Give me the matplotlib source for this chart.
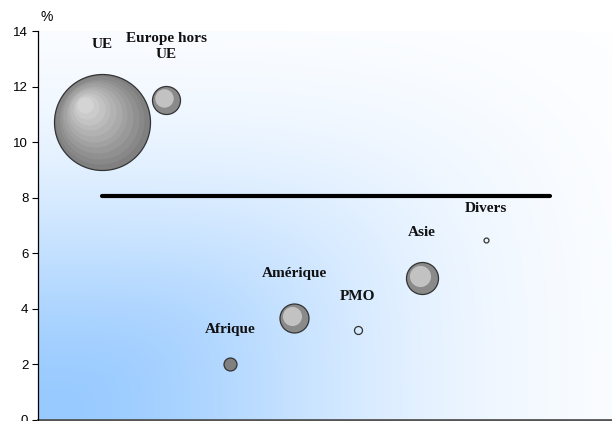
import numpy as np
import matplotlib
matplotlib.use("Agg")
from matplotlib import pyplot as plt
import matplotlib.transforms as mtransforms

# --- data ---
zones = ["UE", "Europe hors\nUE", "Afrique", "Amérique", "PMO", "Asie", "Divers"]
croissance = [10.72, 11.5, 2.0, 3.67, 3.24, 5.11, 6.47]      # % (y)
poids = [2304, 196, 42, 210, 16, 256, 6]                      # bubble area (weight)
label_y = [13.5, 13.45, 3.27, 5.27, 4.46, 6.76, 7.61]         # label positions
moyenne = 8.05
ticks_y = [0, 2, 4, 6, 8, 10, 12, 14]

fig = plt.figure(figsize=(6.12, 4.21), dpi=100)
ax = fig.add_axes([38 / 612, 1 / 421, 574 / 612, 389 / 421])
ax.set_xlim(0, 574 / 64)
ax.set_ylim(0, 14)

# background: corner gradient, light blue bottom-left fading to white
xn = np.linspace(0, 1, 400)
yn = np.linspace(0, 1, 300)
X, Y = np.meshgrid(xn, yn)
u = (X ** 4 + Y ** 4) ** 0.25
f = np.exp(-(u / 0.58) ** 2)
rgb = np.ones((300, 400, 3))
blue = np.array([152, 202, 255]) / 255
for c in range(3):
    rgb[..., c] = 1 - f * (1 - blue[c])
ax.imshow(rgb, extent=[0, 574 / 64, 0, 14], origin="lower", aspect="auto", zorder=0)

# mean line
ax.plot([1, 8], [moyenne, moyenne], color="black", lw=3, solid_capstyle="round", zorder=2)

xs = np.arange(1, len(zones) + 1)


def shifted(dx_pt, dy_pt):
    return ax.transData + mtransforms.ScaledTranslation(dx_pt / 72, dy_pt / 72, fig.dpi_scale_trans)


for i, (x, y, w) in enumerate(zip(xs, croissance, poids)):
    d = 2 * np.sqrt(w) * 0.72  # diameter in points
    if w < 30:
        ax.plot(x, y, "o", ms=d, mfc="none", mec="#333333", mew=0.9, zorder=3)
        continue
    if w < 100:
        ax.plot(x, y, "o", ms=d, mfc="#808080", mec="#333333", mew=0.9, zorder=3)
        continue
    if w > 1000:
        n, fmin, g0, g1 = 11, 0.17, 0.50, 0.83
    else:
        n, fmin, g0, g1 = 2, 0.66, 0.54, 0.76
    ax.plot(x, y, "o", ms=d, mfc=str(g0), mec="#333333", mew=0.9, zorder=3)
    for k in range(1, n):
        t = k / (n - 1)
        frac = 1 - (1 - fmin) * t
        g = g0 + (g1 - g0) * t
        off = (1 - frac) * d / 2 * 0.42
        ax.plot(x, y, "o", ms=d * frac, mfc=str(g), mec="none", zorder=3 + k * 0.01,
                transform=shifted(-off, off))

for x, ly, name in zip(xs, label_y, zones):
    ax.text(x, ly, name, ha="center", va="center", family="Liberation Serif",
            fontweight="bold", fontsize=11, color="#111111", linespacing=1.3, zorder=5)

ax.set_xticks([])
ax.set_yticks(ticks_y)
ax.set_yticklabels([str(t) for t in ticks_y], family="Liberation Sans", fontsize=9.5)
ax.tick_params(axis="y", length=4, width=0.8, pad=3, direction="out")
for s in ["top", "right"]:
    ax.spines[s].set_visible(False)
ax.spines["left"].set_linewidth(0.9)
ax.spines["bottom"].set_color("#555555")
ax.spines["bottom"].set_linewidth(2)
ax.spines["left"].set_zorder(6)

fig.text(47 / 612, 1 - 17 / 421, "%", family="Liberation Sans", fontsize=10, ha="center", va="center")

fig.savefig("out.png", dpi=100)
